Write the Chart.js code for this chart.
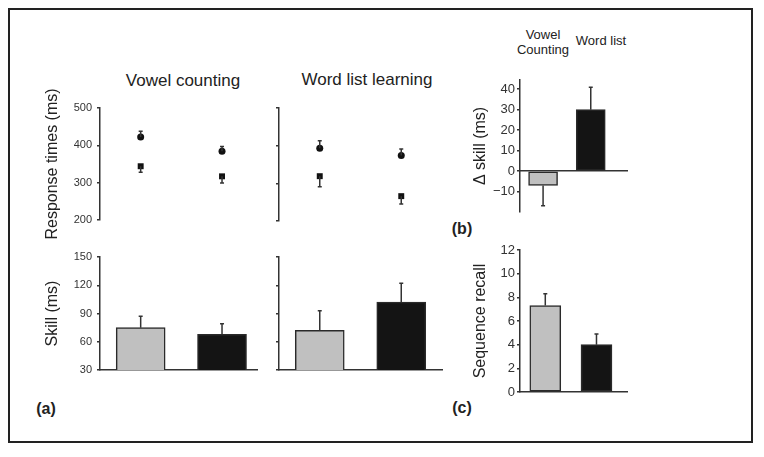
<!DOCTYPE html>
<html lang="en">
<head>
<meta charset="UTF-8">
<title>Vowel counting vs word list learning</title>
<script src="https://cdn.jsdelivr.net/npm/chart.js"></script>
<style>
    body { margin: 0; background: #fff; font-family: 'Liberation Sans', Arial, sans-serif; }
    #page { position: relative; width: 764px; height: 457px; overflow: hidden; background: #fff; }
    #frame { position: absolute; left: 8px; top: 8px; width: 745px; height: 435px; border: 2px solid #222; box-sizing: border-box; }
    canvas { position: absolute; }
    .txt { position: absolute; color: #222; white-space: nowrap; transform: translate(-50%, -50%); }
    .head { font-size: 17px; }
    .small { font-size: 13px; line-height: 15px; text-align: center; }
    .tag { font-size: 16px; font-weight: bold; }
</style>
</head>
<body>
<div id="page">
    <div id="frame"></div>

    <div class="txt head" style="left:183px; top:81px;">Vowel counting</div>
    <div class="txt head" style="left:367px; top:80px;">Word list learning</div>
    <div class="txt small" style="left:543px; top:42px;">Vowel<br>Counting</div>
    <div class="txt small" style="left:601px; top:40px;">Word list</div>
    <div class="txt tag" style="left:46px; top:409px;">(a)</div>
    <div class="txt tag" style="left:462px; top:229px;">(b)</div>
    <div class="txt tag" style="left:462px; top:408px;">(c)</div>

    <canvas id="rtVowel"></canvas>
    <canvas id="rtWord"></canvas>
    <canvas id="skillVowel"></canvas>
    <canvas id="skillWord"></canvas>
    <canvas id="delta"></canvas>
    <canvas id="recall"></canvas>
</div>

<script>
    // ---- data ----
    const groups = [1, 2];   // first / second condition along x

    // (a) response times (ms): circles and squares, error bars one-sided
    const rtVowelCircle = [422, 384];
    const rtVowelCircleErr = [16, 13];
    const rtVowelSquare = [344, 317];
    const rtVowelSquareErr = [16, 18];
    const rtWordCircle = [393, 374];
    const rtWordCircleErr = [20, 17];
    const rtWordSquare = [319, 266];
    const rtWordSquareErr = [28, 21];
    const rtTicks = [200, 300, 400, 500];

    // (a) skill (ms)
    const skillVowel = [75, 68];
    const skillVowelErr = [12, 11];
    const skillWord = [72, 102];
    const skillWordErr = [21, 20];
    const skillTicks = [30, 60, 90, 120, 150];

    // (b) delta skill (ms)
    const deltaSkill = [-7, 30];
    const deltaSkillErr = [10, 11];
    const deltaTicks = [-10, 0, 10, 20, 30, 40];

    // (c) sequence recall
    const recall = [7.3, 4.0];
    const recallErr = [1.0, 0.9];
    const recallTicks = [0, 2, 4, 6, 8, 10, 12];

    const FONT = "'Liberation Sans', Arial, sans-serif";
    const barColors = ['#c0c0c0', '#141414'];
    const ink = '#333';

    Chart.defaults.font.family = FONT;
    Chart.defaults.animation = false;

    function pts(values) {
        return values.map((v, i) => ({ x: groups[i], y: v }));
    }

    // draws the one-sided error bars through the y scale
    const errorBars = {
        id: 'errorBars',
        afterDatasetsDraw(chart) {
            const ctx = chart.ctx;
            const yScale = chart.scales.y;
            chart.data.datasets.forEach((ds, di) => {
                if (!ds.errors) return;
                const meta = chart.getDatasetMeta(di);
                meta.data.forEach((el, i) => {
                    const v = ds.data[i].y;
                    const dir = ds.errDir || (v < 0 ? -1 : 1);
                    const y0 = yScale.getPixelForValue(v);
                    const y1 = yScale.getPixelForValue(v + dir * ds.errors[i]);
                    ctx.save();
                    ctx.strokeStyle = ink;
                    ctx.lineWidth = 1.5;
                    ctx.beginPath();
                    ctx.moveTo(el.x, y0);
                    ctx.lineTo(el.x, y1);
                    ctx.moveTo(el.x - 2, y1);
                    ctx.lineTo(el.x + 2, y1);
                    ctx.stroke();
                    ctx.restore();
                });
            });
        }
    };

    // size and place a canvas so that its chart area lands on "area"
    function place(id, area, leftEdge) {
        const c = document.getElementById(id);
        const padTop = 30, padBottom = 30, padRight = 10;
        c.width = area.right - leftEdge + padRight;
        c.height = area.bottom - area.top + padTop + padBottom;
        c.style.left = leftEdge + 'px';
        c.style.top = (area.top - padTop) + 'px';
        return {
            ctx: c.getContext('2d'),
            padding: { left: 0, top: padTop, right: padRight, bottom: padBottom },
            yWidth: area.left - leftEdge
        };
    }

    function yAxis(min, max, tickVals, width, opts) {
        return {
            min: min,
            max: max,
            afterBuildTicks: s => { s.ticks = tickVals.map(v => ({ value: v })); },
            afterFit: s => { s.width = width; },
            border: { display: true, color: ink, width: 1.5 },
            grid: { drawOnChartArea: false, drawTicks: true, tickLength: 3, color: ink, lineWidth: 1.5 },
            ticks: {
                display: opts.labels,
                padding: opts.tickPad === undefined ? 5 : opts.tickPad,
                color: ink,
                font: { size: opts.fontSize },
                callback: v => String(v).replace('-', '\u2212')
            },
            title: {
                display: !!opts.title,
                text: opts.title || '',
                padding: 0,
                color: '#222',
                font: { size: 16 }
            }
        };
    }

    function xAxis(min, max, opts) {
        return {
            type: 'linear',
            min: min,
            max: max,
            offset: false,
            display: opts.show,
            position: opts.position || 'bottom',
            afterFit: s => { s.height = 0; },
            border: { display: true, color: ink, width: 1.5 },
            grid: { display: false },
            ticks: { display: false }
        };
    }

    function rtChart(id, area, leftEdge, circles, circleErr, squares, squareErr, xr, opts) {
        const p = place(id, area, leftEdge);
        return new Chart(p.ctx, {
            type: 'scatter',
            data: {
                datasets: [
                    { data: pts(circles), errors: circleErr, errDir: 1, pointStyle: 'circle', pointRadius: 3.5,
                      backgroundColor: '#111', borderColor: '#111', borderWidth: 0 },
                    { data: pts(squares), errors: squareErr, errDir: -1, pointStyle: 'rect', pointRadius: 4.2,
                      backgroundColor: '#111', borderColor: '#111', borderWidth: 0 }
                ]
            },
            options: {
                responsive: false,
                layout: { padding: p.padding },
                plugins: { legend: { display: false }, tooltip: { enabled: false } },
                scales: {
                    x: xAxis(xr[0], xr[1], { show: false }),
                    y: yAxis(200, 500, rtTicks, p.yWidth, opts)
                }
            },
            plugins: [errorBars]
        });
    }

    function barChart(id, area, leftEdge, values, errs, yr, ticks, xr, thickness, opts) {
        const p = place(id, area, leftEdge);
        return new Chart(p.ctx, {
            type: 'bar',
            data: {
                datasets: [{
                    data: pts(values),
                    errors: errs,
                    backgroundColor: barColors,
                    borderColor: '#2a2a2a',
                    borderWidth: 1.5,
                    borderSkipped: false,
                    barThickness: thickness
                }]
            },
            options: {
                responsive: false,
                layout: { padding: p.padding },
                plugins: { legend: { display: false }, tooltip: { enabled: false } },
                scales: {
                    x: xAxis(xr[0], xr[1], { show: true, position: opts.xPosition }),
                    y: yAxis(yr[0], yr[1], ticks, p.yWidth, opts)
                }
            },
            plugins: [errorBars]
        });
    }

    // (a) top row
    rtChart('rtVowel', { left: 100, top: 108, right: 257, bottom: 220 }, 43,
        rtVowelCircle, rtVowelCircleErr, rtVowelSquare, rtVowelSquareErr,
        [0.5, 2.43], { labels: true, fontSize: 11, title: 'Response times (ms)' });
    rtChart('rtWord', { left: 279, top: 108, right: 442, bottom: 221 }, 269,
        rtWordCircle, rtWordCircleErr, rtWordSquare, rtWordSquareErr,
        [0.5, 2.5], { labels: false, fontSize: 11 });

    // (a) bottom row
    barChart('skillVowel', { left: 100, top: 257, right: 257, bottom: 370 }, 43,
        skillVowel, skillVowelErr, [30, 150], skillTicks, [0.5, 2.43], 49,
        { labels: true, fontSize: 11, title: 'Skill (ms)' });
    barChart('skillWord', { left: 279, top: 257, right: 442, bottom: 370 }, 269,
        skillWord, skillWordErr, [30, 150], skillTicks, [0.5, 2.5], 49,
        { labels: false, fontSize: 11 });

    // (b)
    barChart('delta', { left: 520, top: 80, right: 627, bottom: 212 }, 471,
        deltaSkill, deltaSkillErr, [-20, 44.5], deltaTicks, [0.516, 2.76], 29,
        { labels: true, fontSize: 13, tickPad: 2, title: '\u0394 skill (ms)', xPosition: { y: 0 } });

    // (c)
    barChart('recall', { left: 520, top: 250, right: 627, bottom: 392 }, 471,
        recall, recallErr, [0, 12], recallTicks, [0.506, 2.596], 31,
        { labels: true, fontSize: 13, tickPad: 2, title: 'Sequence recall' });
</script>
</body>
</html>
